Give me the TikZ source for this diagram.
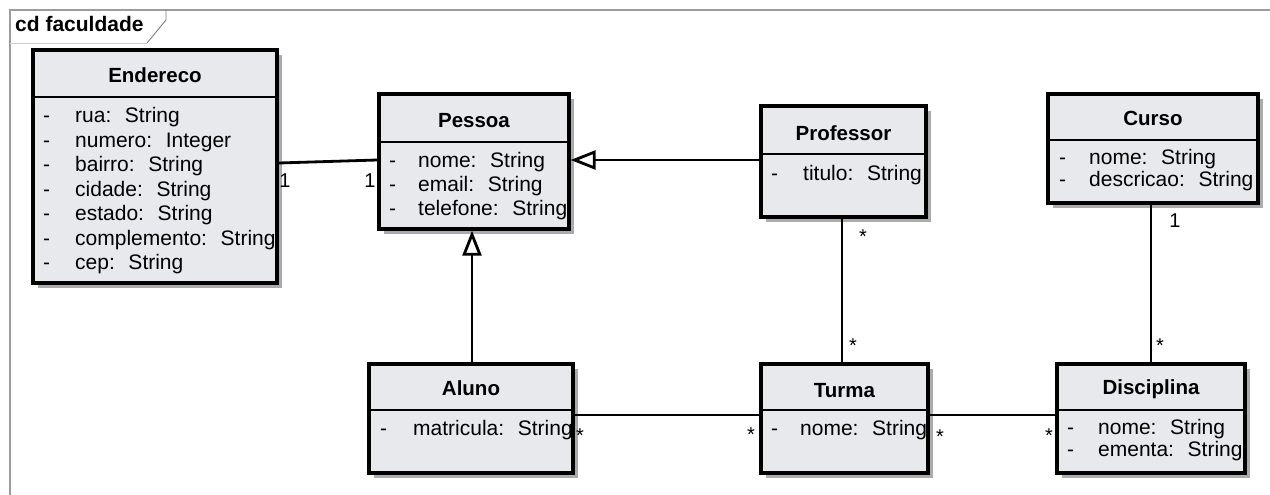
\documentclass[tikz,border=0pt]{standalone}
\usepackage{fontspec}
\setmainfont{Liberation Sans}
\usetikzlibrary{arrows.meta,shadows,fit}
\definecolor{boxfill}{HTML}{E8E9ED}
\definecolor{shadowc}{HTML}{ABABAD}
\definecolor{framec}{HTML}{9C9C9C}
\tikzset{
  umlbox/.style={draw=black, line width=3.3pt, fill=boxfill, inner sep=0pt,
    drop shadow={shadow xshift=5pt, shadow yshift=-5pt, fill=shadowc, opacity=1}},
  sepline/.style={line width=2.8pt},
  ctitle/.style={font=\fontsize{20.5}{24}\selectfont\bfseries, inner sep=0pt, anchor=base},
  attr/.style={font=\fontsize{21}{24}\selectfont, inner sep=0pt, anchor=base west},
  mult/.style={font=\fontsize{20}{24}\selectfont, inner sep=0pt, anchor=base},
  assoc/.style={line width=2.8pt},
  gen/.style={line width=2.8pt, -{Triangle[open, length=25pt, width=19pt]}},
  framel/.style={draw=framec, line width=2pt},
}
\newcommand\umlclass[8]{%
  \node[umlbox, fit={(#2,#3) (#4,#5)}] (#1) {};
  \draw[sepline] (#1.west |- 0,#6) -- (#1.east |- 0,#6);
  \node[ctitle] (#1-t) at (#1.north |- 0,#8) {#7};
}
\newcommand\umlattrs[6]{%
  \foreach \t [count=\i] in {#6} {
    \node[attr] (#1-d\i) at (#2, {#4+(\i-1)*#5}) {-};
    \node[attr] (#1-a\i) at (#3, {#4+(\i-1)*#5}) {\t};
  }%
}
\begin{document}
\begin{tikzpicture}[x=1pt, y=-1pt]
\useasboundingbox (0,0) rectangle (1270,495);
\fill[white] (0,0) rectangle (1270,495);
% frame
\draw[framel] (10,495) -- (10,10) -- (1270,10);
\draw[framec!50, line width=0.8pt] (10,43) -- (147,43);
\draw[framec!80!black, line width=0.9pt] (166,10) -- (166,20) -- (147,43);
\node[font=\fontsize{21}{24}\selectfont\bfseries, inner sep=0pt, anchor=base west] (title) at (15,32) {cd faculdade};

% classes
\umlclass{end}{33}{50}{277}{283}{97}{Endereco}{83}
\umlattrs{end}{43}{75}{122.5}{24.5}{rua:~ String, numero:~ Integer, bairro:~ String, cidade:~ String, estado:~ String, complemento:~ String, cep:~ String}

\umlclass{pes}{379}{94}{569}{229}{142}{Pessoa}{127}
\umlattrs{pes}{389}{418}{167}{24}{nome:~ String, email:~ String, telefone:~ String}

\umlclass{prof}{761}{106}{926}{217}{154}{Professor}{140}
\umlattrs{prof}{771}{803}{180}{24}{titulo:~ String}

\umlclass{cur}{1048}{94}{1258}{203}{140}{Curso}{125}
\umlattrs{cur}{1059}{1089}{164}{22.5}{nome:~ String, descricao:~ String}

\umlclass{alu}{369}{364}{573}{473}{410}{Aluno}{395}
\umlattrs{alu}{380}{413}{435}{24}{matricula:~ String}

\umlclass{tur}{761}{364}{928}{473}{410}{Turma}{397}
\umlattrs{tur}{771}{800}{435}{24}{nome:~ String}

\umlclass{dis}{1057}{364}{1245}{473}{410}{Disciplina}{394}
\umlattrs{dis}{1067}{1098}{434}{22.5}{nome:~ String, ementa:~ String}

% connectors
\draw[assoc] (end.east |- 0,163) -- (pes.west |- 0,160);
\draw[gen] (prof.west |- 0,160) -- (pes.east |- 0,160);
\draw[gen] (alu.north -| 472,0) -- (pes.south -| 472,0);
\draw[assoc] (prof.south -| 842,0) -- (tur.north -| 842,0);
\draw[assoc] (cur.south -| 1151,0) -- (dis.north -| 1151,0);
\draw[assoc] (alu.east |- 0,415) -- (tur.west |- 0,415);
\draw[assoc] (tur.east |- 0,415) -- (dis.west |- 0,415);

% multiplicities
\node[mult] (m1) at (285,187) {1};
\node[mult] (m2) at (370,187) {1};
\node[mult] (m3) at (863,243) {*};
\node[mult] (m4) at (853,352) {*};
\node[mult] (m5) at (1175,227) {1};
\node[mult] (m6) at (1160,352) {*};
\node[mult] (m7) at (580,442) {*};
\node[mult] (m8) at (751,441) {*};
\node[mult] (m9) at (940,443) {*};
\node[mult] (m10) at (1049,442) {*};
\end{tikzpicture}
\end{document}
